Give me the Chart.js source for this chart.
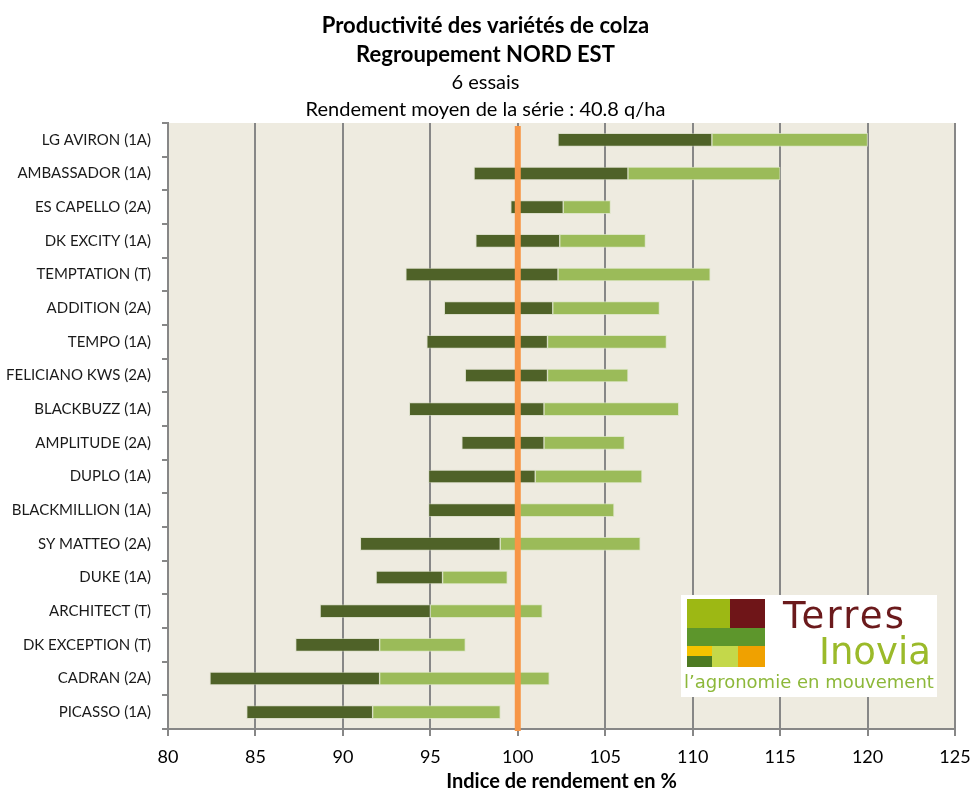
<!DOCTYPE html>
<html>
<head>
<meta charset="utf-8">
<script src="https://cdn.jsdelivr.net/npm/chart.js@4"></script>
<style>
  html, body { margin: 0; padding: 0; background: #ffffff; }
  #wrap { position: relative; width: 971px; height: 789px; }
  #logo { position: absolute; left: 681px; top: 595px; width: 256px; height: 102px; background: #ffffff; font-family: "DejaVu Sans", sans-serif; }
  #logo .c { position: absolute; }
  #logo .t { position: absolute; line-height: 1; white-space: nowrap; }
  #logo .t1 { left: 102px; top: 2px; font-size: 37px; color: #6b1a1c; letter-spacing: 2.2px; }
  #logo .t2 { left: 138px; top: 38px; font-size: 37px; color: #9bba2a; }
  #logo .t3 { left: 3px; top: 78px; font-size: 18px; color: #8db83a; }
</style>
</head>
<body>
<div id="wrap">
  <canvas id="chart"></canvas>
  <div id="logo">
    <div class="c" style="left:6px;top:4px;width:43px;height:29px;background:#9db814"></div>
    <div class="c" style="left:49px;top:4px;width:35px;height:29px;background:#6f1518"></div>
    <div class="c" style="left:6px;top:33px;width:78px;height:18px;background:#5d962c"></div>
    <div class="c" style="left:6px;top:51px;width:25px;height:10px;background:#f4c300"></div>
    <div class="c" style="left:6px;top:61px;width:25px;height:11px;background:#4d7a22"></div>
    <div class="c" style="left:31px;top:51px;width:26px;height:21px;background:#c4d84a"></div>
    <div class="c" style="left:57px;top:51px;width:27px;height:21px;background:#f0a100"></div>
    <div class="t t1">Terres</div>
    <div class="t t2">Inovia</div>
    <div class="t t3">l’agronomie en mouvement</div>
  </div>
</div>
<script>
const categories = [
  "LG AVIRON (1A)", "AMBASSADOR (1A)", "ES CAPELLO (2A)", "DK EXCITY (1A)",
  "TEMPTATION (T)", "ADDITION (2A)", "TEMPO (1A)", "FELICIANO KWS (2A)",
  "BLACKBUZZ (1A)", "AMPLITUDE (2A)", "DUPLO (1A)", "BLACKMILLION (1A)",
  "SY MATTEO (2A)", "DUKE (1A)", "ARCHITECT (T)", "DK EXCEPTION (T)",
  "CADRAN (2A)", "PICASSO (1A)"
];
const minValues  = [102.3, 97.5, 99.6, 97.6, 93.6, 95.8, 94.8, 97.0, 93.8, 96.8, 94.9, 94.9, 91.0, 91.9, 88.7, 87.3, 82.4, 84.5];
const meanValues = [111.1, 106.3, 102.6, 102.4, 102.3, 102.0, 101.7, 101.7, 101.5, 101.5, 101.0, 100.1, 99.0, 95.7, 95.0, 92.1, 92.1, 91.7];
const maxValues  = [120.0, 115.0, 105.3, 107.3, 111.0, 108.1, 108.5, 106.3, 109.2, 106.1, 107.1, 105.5, 107.0, 99.4, 101.4, 97.0, 101.8, 99.0];
const referenceValue = 100;
const xTicks = [80, 85, 90, 95, 100, 105, 110, 115, 120, 125];
const titleLines = ["Productivité des variétés de colza", "Regroupement NORD EST"];
const subtitleLines = ["6 essais", "Rendement moyen de la série : 40.8 q/ha"];
const xAxisTitle = "Indice de rendement en %";

const FONT = "Lato, 'Open Sans', sans-serif";

const lowerData = categories.map((c, i) => [minValues[i], meanValues[i]]);
const upperData = categories.map((c, i) => [meanValues[i], maxValues[i]]);

const bgPlugin = {
  id: 'plotBg',
  beforeDraw(chart) {
    const { ctx, chartArea: a } = chart;
    ctx.save();
    ctx.fillStyle = '#eeebe0';
    ctx.fillRect(a.left, a.top, a.right - a.left, a.bottom - a.top);
    ctx.restore();
  }
};

const refLinePlugin = {
  id: 'refLine',
  afterDatasetsDraw(chart) {
    const { ctx, chartArea: a, scales } = chart;
    const x = scales.x.getPixelForValue(referenceValue);
    ctx.save();
    ctx.strokeStyle = '#f79646';
    ctx.lineWidth = 6;
    ctx.beginPath();
    ctx.moveTo(x, a.top + 3);
    ctx.lineTo(x, a.bottom + 2);
    ctx.stroke();
    ctx.restore();
  }
};

new Chart(document.getElementById('chart'), {
  type: 'bar',
  data: {
    labels: categories,
    datasets: [
      {
        label: 'min-moyenne',
        data: lowerData,
        backgroundColor: '#4f6228',
        borderColor: 'rgba(200,210,180,0.5)',
        borderWidth: 1,
        borderSkipped: false,
        barThickness: 13,
        grouped: false,
        order: 1
      },
      {
        label: 'moyenne-max',
        data: upperData,
        backgroundColor: '#9bbb59',
        borderColor: 'rgba(215,228,190,0.8)',
        borderWidth: 1,
        borderSkipped: false,
        barThickness: 13,
        grouped: false,
        order: 2
      }
    ]
  },
  options: {
    indexAxis: 'y',
    responsive: true,
    maintainAspectRatio: false,
    animation: false,
    layout: { padding: { left: 0, right: 0, top: 0, bottom: 0 } },
    plugins: {
      legend: { display: false },
      tooltip: { enabled: false },
      title: {
        display: true,
        text: titleLines,
        color: '#000',
        font: { family: FONT, size: 22, weight: 'bold', lineHeight: 29 / 22 },
        padding: { top: 11, bottom: 0 }
      },
      subtitle: {
        display: true,
        text: subtitleLines,
        color: '#000',
        font: { family: FONT, size: 20, weight: 'normal', lineHeight: 27 / 20 },
        padding: { top: 0, bottom: 0 }
      }
    },
    scales: {
      x: {
        type: 'linear',
        min: xTicks[0],
        max: xTicks[xTicks.length - 1],
        afterBuildTicks(scale) { scale.ticks = xTicks.map(v => ({ value: v })); },
        afterFit(scale) { scale.height = 60; scale.paddingRight = 16; },
        ticks: {
          color: '#000',
          font: { family: FONT, size: 18 },
          padding: 10
        },
        grid: {
          color: '#878787',
          lineWidth: 2,
          drawTicks: true,
          tickLength: 7,
          tickColor: '#878787'
        },
        border: { display: true, color: '#878787', width: 2 },
        title: {
          display: true,
          text: xAxisTitle,
          color: '#000',
          font: { family: FONT, size: 20, weight: 'bold' },
          padding: { top: 0, bottom: -5 }
        }
      },
      y: {
        afterFit(scale) { scale.width = 168; },
        ticks: {
          color: '#1a1a1a',
          font: { family: FONT, size: 15 },
          padding: 11
        },
        grid: {
          offset: true,
          drawOnChartArea: false,
          drawTicks: true,
          tickLength: 6,
          color: '#878787',
          lineWidth: 2
        },
        border: { display: true, color: '#878787', width: 2 }
      }
    }
  },
  plugins: [bgPlugin, refLinePlugin]
});
</script>
</body>
</html>
